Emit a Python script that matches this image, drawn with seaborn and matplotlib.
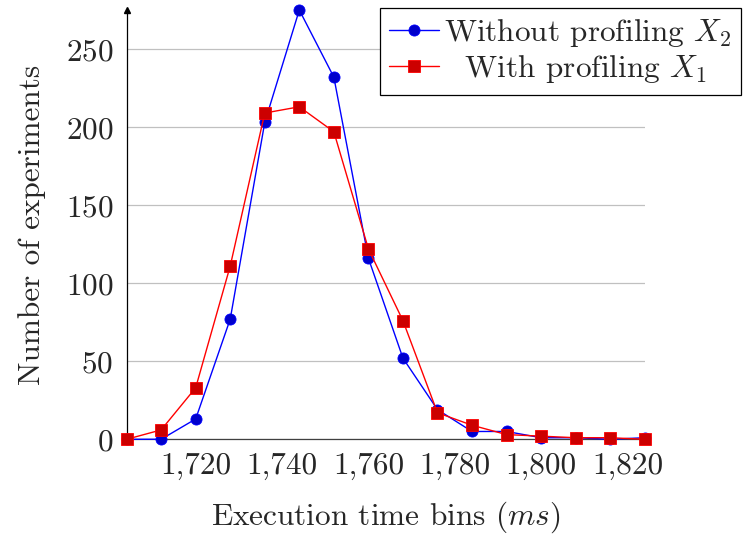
import matplotlib
matplotlib.use("Agg")
import matplotlib.pyplot as plt
import seaborn as sns
from matplotlib.ticker import FuncFormatter

# Histogram bins (ms) and counts per bin
bins = [1704, 1712, 1720, 1728, 1736, 1744, 1752, 1760,
        1768, 1776, 1784, 1792, 1800, 1808, 1816, 1824]
without_profiling = [0, 0, 13, 77, 203, 275, 232, 116, 52, 19, 5, 5, 1, 1, 0, 1]
with_profiling = [0, 6, 33, 111, 209, 213, 197, 122, 76, 17, 9, 3, 2, 1, 1, 0]

x_ticks = [1720, 1740, 1760, 1780, 1800, 1820]
y_ticks = [0, 50, 100, 150, 200, 250]

FS = 22.5

sns.set_theme(style="white")
plt.rcParams["font.family"] = ["cmr10"]
plt.rcParams["mathtext.fontset"] = "cm"
plt.rcParams["axes.formatter.use_mathtext"] = True

fig = plt.figure(figsize=(7.43, 5.38), dpi=100)
ax = fig.add_axes([0.1704, 0.1835, 0.6973, 0.7979])

sns.lineplot(x=bins, y=without_profiling, ax=ax, color="#0000ff", lw=1,
             marker="o", markersize=8, markerfacecolor="#0000cc",
             markeredgecolor="#0000ff", markeredgewidth=0.6,
             label=r"Without profiling $X_2$", clip_on=False, zorder=3)
sns.lineplot(x=bins, y=with_profiling, ax=ax, color="#ff0000", lw=1,
             marker="s", markersize=8, markerfacecolor="#cc0000",
             markeredgecolor="#ff0000", markeredgewidth=0.6,
             label=r"  With profiling $X_1$", clip_on=False, zorder=4)

ax.set_xlim(1704, 1824)
ax.set_ylim(0, 275)
ax.set_xticks(x_ticks)
ax.set_yticks(y_ticks)
ax.xaxis.set_major_formatter(FuncFormatter(lambda v, p: f"{v:,.0f}"))

ax.yaxis.grid(True, color="#c0c0c0", lw=0.9)
ax.set_axisbelow(True)

for side in ["top", "right"]:
    ax.spines[side].set_visible(False)
ax.spines["left"].set_color("black")
ax.spines["bottom"].set_color("#404040")
ax.spines["left"].set_linewidth(0.9)
ax.spines["bottom"].set_linewidth(0.9)

# arrow heads at the axis ends
ax.plot(1, 0, marker=">", color="black", ms=4, transform=ax.transAxes, clip_on=False)
ax.plot(0, 1, marker="^", color="black", ms=4, transform=ax.transAxes, clip_on=False)

ax.tick_params(axis="both", direction="inout", length=7, width=0.8,
               color="#606060", labelsize=FS, pad=6)

ax.set_xlabel(r"Execution time bins ($ms$)", fontsize=FS, labelpad=14)
ax.set_ylabel("Number of experiments", fontsize=FS, labelpad=14)

leg = ax.legend(loc="upper right", bbox_to_anchor=(741 / 743, 1 - 8 / 538),
                bbox_transform=fig.transFigure, borderaxespad=0, fontsize=FS,
                fancybox=False, edgecolor="black", framealpha=1,
                handlelength=1.6, handletextpad=0.15, labelspacing=0.12,
                borderpad=0.3)
leg.get_frame().set_linewidth(0.9)

fig.savefig("out.png", dpi=100)
